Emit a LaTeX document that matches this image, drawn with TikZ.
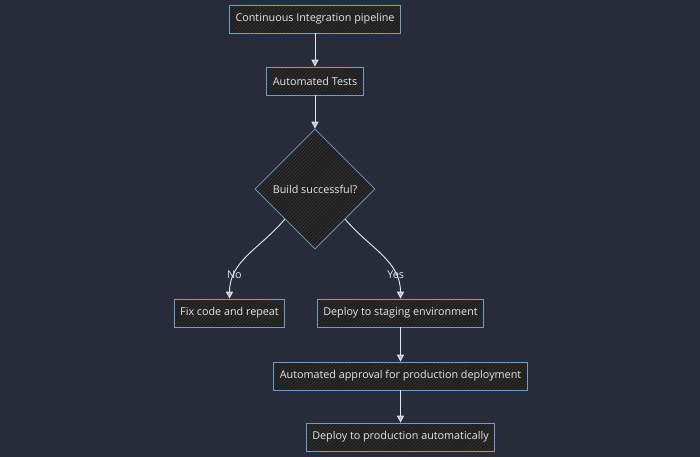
\documentclass[tikz,border=0pt]{standalone}
\usepackage{fontspec}
\setmainfont{Open Sans}
\usepackage{xcolor}
\usetikzlibrary{arrows.meta,positioning,shapes.geometric,patterns}

\definecolor{bgnavy}{HTML}{282C3A}
\definecolor{boxfill}{HTML}{1E1E1E}
\definecolor{boxline}{HTML}{6A9FD0}
\definecolor{inkwhite}{HTML}{E6E6E6}

\begin{document}
\begin{tikzpicture}[
    x=0.03cm, y=-0.03cm,
    box/.style={preaction={fill=boxfill}, pattern=north east lines, pattern color=white!12!boxfill,
        draw=boxline, line width=0.6pt, minimum height=0.84cm,
        inner xsep=0.18cm, align=center, font=\fontsize{9.2}{11}\selectfont, text=inkwhite},
    decide/.style={diamond, preaction={fill=boxfill}, pattern=north east lines, pattern color=white!12!boxfill,
        draw=boxline, line width=0.6pt, aspect=1,
        minimum size=3.6cm, inner sep=0pt, font=\fontsize{9.2}{11}\selectfont, text=inkwhite},
    arr/.style={-{Triangle[length=6pt, width=6pt, fill=inkwhite!80!black]}, draw=inkwhite, line width=0.8pt},
    lbl/.style={font=\fontsize{9.2}{11}\selectfont, text=inkwhite, inner sep=1pt},
]
% Background
\fill[bgnavy] (0,0) rectangle (700,457);
\useasboundingbox (0,0) rectangle (700,457);

% Pipeline start
\node[box] (ci) at (315,19) {Continuous Integration pipeline};
\node[box] (tests) at (315,81) {Automated Tests};

% Decision
\node[decide] (build) at (315,189) {Build successful?};

% Branches
\node[box] (fix) at (229.5,313) {Fix code and repeat};
\node[box] (staging) at (400.5,313) {Deploy to staging environment};

% Release
\node[box] (approval) at (400.5,376) {Automated approval for production deployment};
\node[box] (prod) at (400.5,437) {Deploy to production automatically};

% Arrows
\draw[arr] (ci) -- (tests);
\draw[arr] (tests) -- (build);
\draw[arr] (build.south west) to[out=-130, in=90] node[lbl, pos=0.76] {No} (fix.north);
\draw[arr] (build.south east) to[out=-50, in=90] node[lbl, pos=0.76] {Yes} (staging.north);
\draw[arr] (staging) -- (approval);
\draw[arr] (approval) -- (prod);
\end{tikzpicture}
\end{document}
